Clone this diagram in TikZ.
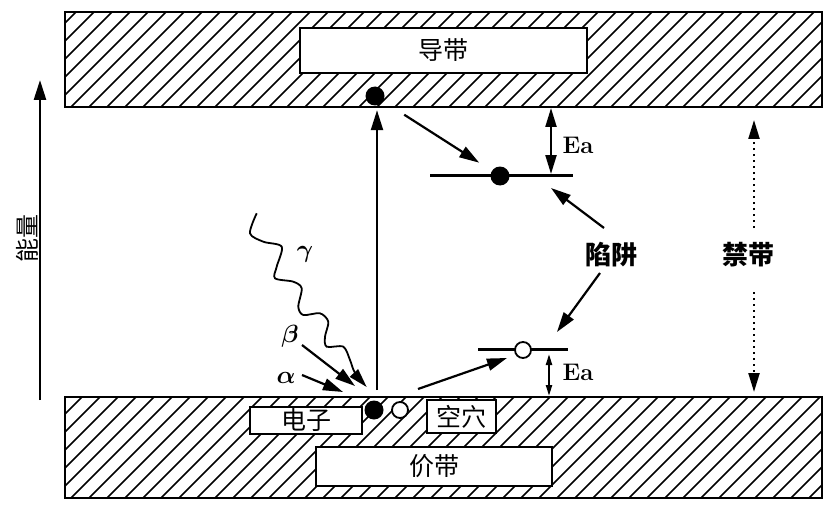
\documentclass[tikz,border=0pt]{standalone}
\usepackage{fontspec}
\usepackage{amsmath}
\usetikzlibrary{arrows.meta,calc}
\newfontfamily\cjk{Noto Sans CJK SC}
\tikzstyle{band} = [draw, line width=2.5pt, minimum width=757pt, inner sep=0pt,
    path picture={\foreach \k in {0,...,50}
        \draw[line width=1.6pt] ([xshift=\k*18pt-120pt]path picture bounding box.south west) -- ++(130pt,130pt);}]
\tikzstyle{tagbox} = [draw, fill=white, line width=2.5pt, inner sep=0pt,
    font=\cjk\fontsize{25}{27}\selectfont]
\tikzstyle{edot} = [circle, fill=black, minimum size=19pt, inner sep=0pt]
\tikzstyle{hdot} = [circle, draw, fill=white, line width=1.8pt, minimum size=16pt, inner sep=0pt]
\tikzstyle{arrow} = [-{Triangle[length=20pt,width=12pt]}, line width=2.2pt]
\tikzstyle{dblarrow} = [{Triangle[length=19pt,width=11pt]}-{Triangle[length=19pt,width=11pt]}, line width=2.2pt]
\tikzstyle{smalldbl} = [{Triangle[length=11pt,width=6pt]}-{Triangle[length=11pt,width=6pt]}, line width=2.2pt]
\tikzstyle{dotarrow} = [-{Triangle[length=19pt,width=11pt]}, line width=2.2pt, dash pattern=on 2pt off 4pt]
\tikzstyle{level} = [line width=3pt]
\tikzstyle{greek} = [inner sep=1pt, font=\fontsize{25}{28}\selectfont\boldmath]
\tikzstyle{cjkbold} = [inner sep=2pt, font=\cjk\bfseries\fontsize{26}{28}\selectfont]
\tikzstyle{eatext} = [inner sep=1pt, font=\fontsize{24}{26}\selectfont\bfseries]

\begin{document}
\begin{tikzpicture}[x=1pt, y=-1pt]
        \useasboundingbox (0,0) rectangle (827,516);
        % Bands
        \node (cband) [band, minimum height=95pt] at (443.5,59.5) {};
        \node (vband) [band, minimum height=101pt] at (443.5,447.5) {};
        \node (cbox) [tagbox, minimum width=287pt, minimum height=45pt] at (443.5,50.5) {导带};
        \node (vbox) [tagbox, minimum width=236pt, minimum height=39pt] at (434,466.5) {价带};
        \node (ebox) [tagbox, minimum width=112pt, minimum height=27pt] at (306,420.5) {电子};
        \node (hbox) [tagbox, minimum width=69pt, minimum height=33pt] at (461.5,416.5) {空穴};

        % Trap levels
        \coordinate (lv1a) at (430,175);
        \coordinate (lv1b) at (573,175);
        \coordinate (lv2a) at (478,349);
        \coordinate (lv2b) at (568,349);
        \draw[level] (lv1a) -- (lv1b);
        \draw[level] (lv2a) -- (lv2b);

        % Carriers
        \node (eup) [edot] at (375,96) {};
        \node (etrap) [edot] at (500,176) {};
        \node (elow) [edot] at (374,410) {};
        \node (hlow) [hdot] at (400,410) {};
        \node (htrap) [hdot] at (523,350) {};

        % Labels
        \node (energy) [rotate=90, font=\cjk\fontsize{24}{26}\selectfont] at (27,238) {能量};
        \node (trapl) [cjkbold] at (611,255) {陷阱};
        \node (gapl) [cjkbold] at (748,255) {禁带};
        \node (ea1) [eatext] at (578,145) {Ea};
        \node (ea2) [eatext] at (578,372) {Ea};
        \node (gam) [greek] at (305,254) {$\gamma$};
        \node (bet) [greek] at (290,336) {$\beta$};
        \node (alp) [greek] at (286,378) {$\alpha$};

        % Free ends
        \coordinate (axlow) at (40,400);
        \coordinate (axtop) at (40,80);
        \coordinate (tp1) at (551,188);
        \coordinate (tp2) at (557,332);
        \coordinate (gtop) at (754,120);
        \coordinate (gbot) at (754,392);
        \coordinate (htip) at (507,358);
        \coordinate (btip) at (355,386);
        \coordinate (atip) at (343,392);
        \coordinate (ea1t) at (551,108);
        \coordinate (ea1b) at (551,174);
        \coordinate (ea2t) at (549,354);
        \coordinate (ea2b) at (549,396);

        % Arrows
        \draw[arrow, line width=2.6pt] (axlow) -- (axtop);
        \draw[arrow, shorten >=4.5pt] (elow) ++(3,-20) -- ([xshift=2pt]eup.south);
        \draw[arrow, shorten <=25pt, shorten >=15pt] (eup) -- (etrap);
        \draw[arrow] (hlow) ++(18,-21) -- (htip);
        \draw[arrow] (trapl) ++(-7,-27) -- (tp1);
        \draw[arrow] (trapl) ++(-11,18) -- (tp2);
        \draw[dotarrow] (gapl) ++(6,-27) -- (gtop);
        \draw[dotarrow] (gapl) ++(6,37) -- (gbot);
        \draw[dblarrow] (ea1t) -- (ea1b);
        \draw[smalldbl] (ea2t) -- (ea2b);
        \draw[arrow] (bet) ++(12,9) -- (btip);
        \draw[arrow] (alp) ++(16,-3) -- (atip);
        \draw[-{Triangle[length=19pt,width=11pt]}, line width=1.8pt] plot[smooth] coordinates {
            (256.7,213.3) (250,233.3) (263.3,241.7) (281.7,246.7) (276.7,266.7) (275,278.3)
            (293.3,281.7) (301.7,288.3) (298.3,306.7) (303.3,315) (320,313.3) (328.3,321.7)
            (325,336.7) (326.7,346.7) (343.3,346.7) (350,360) (355,373) (366.7,387)};
    \end{tikzpicture}
\end{document}
